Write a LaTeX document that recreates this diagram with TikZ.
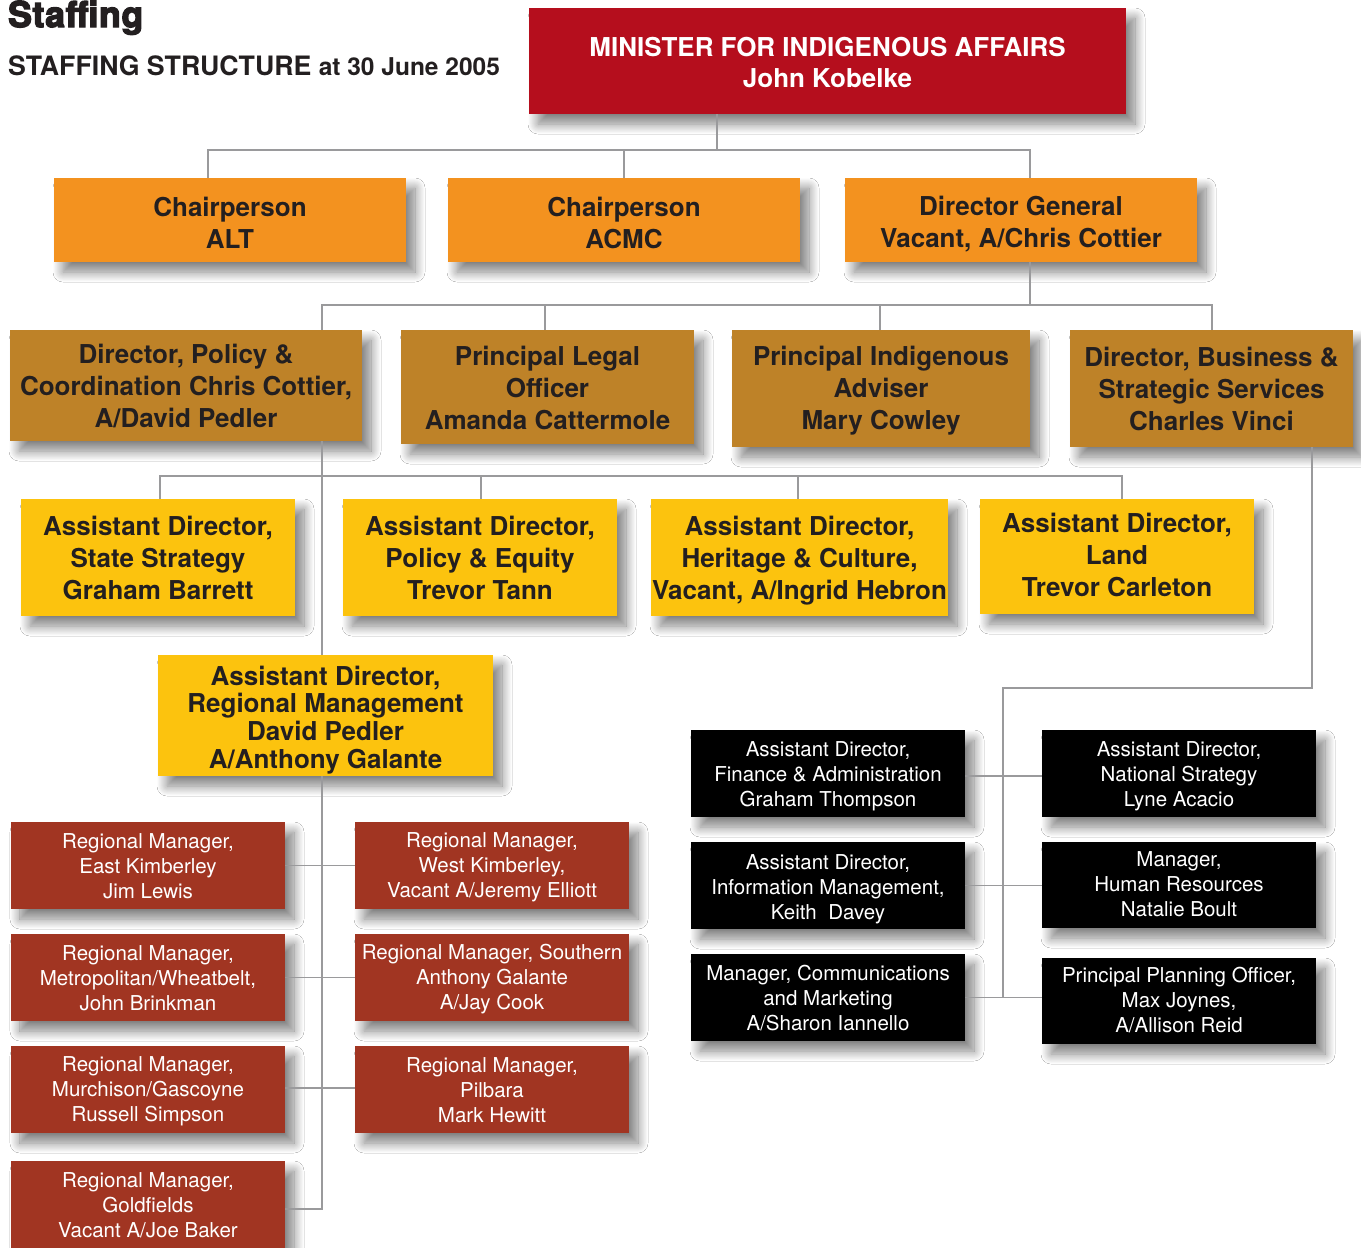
\documentclass[tikz,border=0pt]{standalone}
\usepackage{fontspec}
\setmainfont{TeX Gyre Heros}
\newfontfamily\heavyfont{texgyreheros-bold.otf}[FakeBold=4,LetterSpace=2]
\usetikzlibrary{shadows.blur}
\definecolor{minred}{HTML}{B50E1D}
\definecolor{orng}{HTML}{F3921F}
\definecolor{gold}{HTML}{BE8228}
\definecolor{yel}{HTML}{FCC30E}
\definecolor{rust}{HTML}{A13522}
\definecolor{txt}{HTML}{231F20}
\definecolor{linec}{HTML}{9A9A9C}
\tikzset{
  box/.style={inner sep=0pt,
    blur shadow={shadow xshift=9pt, shadow yshift=-10pt, shadow blur radius=10pt, shadow blur steps=14, shadow opacity=50}},
  btext/.style={inner sep=0pt, align=center, text=txt, font=\bfseries\fontsize{26}{32}\selectfont},
  wtext/.style={inner sep=0pt, align=center, text=white, font=\fontsize{20.5}{25}\selectfont},
  conn/.style={draw=linec, line width=1.6pt},
  bw/.style 2 args={minimum width=#1, minimum height=#2}
}
% #1 fill, #2 text style, #3 width, #4 height, #5 name, #6 centre, #7 text shift (down, px), #8 text
\newcommand\obox[8]{%
  \node[box, fill=#1, bw={#3}{#4}] (#5) at (#6) {};
  \node[#2] (#5-t) at ([yshift=-#7pt]#5.center) {#8};}
\begin{document}
\begin{tikzpicture}[x=1pt,y=-1pt]
\useasboundingbox[fill=white] (0,0) rectangle (1361,1248);

\node[anchor=base west, inner sep=0pt, text=txt, font=\heavyfont\fontsize{35.5}{35.5}\selectfont] (title) at (8,27) {Staffing};
\node[anchor=base west, inner sep=0pt, text=txt, font=\bfseries\fontsize{26.7}{26.7}\selectfont] (sub) at (8,75) {STAFFING STRUCTURE {\fontsize{24.5}{24.5}\selectfont at 30 June 2005}};

% level 1
\obox{minred}{btext, text=white, font=\bfseries\fontsize{26}{31}\selectfont}{597}{106}{min}{827.5,61}{1.5}{MINISTER FOR INDIGENOUS AFFAIRS\\John Kobelke}

% level 2
\obox{orng}{btext}{352}{84}{alt}{230,220}{3}{Chairperson\\ALT}
\obox{orng}{btext}{352}{84}{acmc}{624,220}{3}{Chairperson\\ACMC}
\obox{orng}{btext}{352}{84}{dg}{1021,220}{4.5}{Director General\\Vacant, A/Chris Cottier}

% level 3
\obox{gold}{btext}{352}{111}{pol}{186,385.5}{0}{Director, Policy \&\\Coordination Chris Cottier,\\A/David Pedler}
\obox{gold}{btext}{293}{114}{legal}{547.5,387}{1}{Principal Legal\\Officer\\Amanda Cattermole}
\obox{gold}{btext}{298}{117}{ind}{881,388.5}{2.5}{Principal Indigenous\\Adviser\\Mary Cowley}
\obox{gold}{btext}{283}{117}{bus}{1211.5,388.5}{0}{Director, Business \&\\Strategic Services\\Charles Vinci}

% level 4
\obox{yel}{btext}{274}{117}{state}{158,557.5}{0}{Assistant Director,\\State Strategy\\Graham Barrett}
\obox{yel}{btext}{274}{117}{poleq}{480,557.5}{0}{Assistant Director,\\Policy \& Equity\\Trevor Tann}
\obox{yel}{btext}{297}{117}{her}{799.5,557.5}{3}{Assistant Director,\\Heritage \& Culture,\\Vacant, A/Ingrid Hebron}
\obox{yel}{btext}{274}{115}{land}{1117,556.5}{-2}{Assistant Director,\\Land\\Trevor Carleton}
\obox{yel}{btext, font=\bfseries\fontsize{26}{27.7}\selectfont}{335}{121}{reg}{325.5,715.5}{4.5}{Assistant Director,\\Regional Management\\David Pedler\\A/Anthony Galante}

% regional managers
\obox{rust}{wtext}{274}{87}{ek}{148,865.5}{1}{Regional Manager,\\East Kimberley\\Jim Lewis}
\obox{rust}{wtext}{274}{87}{wk}{492,865.5}{1.5}{Regional Manager,\\West Kimberley,\\Vacant A/Jeremy Elliott}
\obox{rust}{wtext}{274}{87}{met}{148,977.5}{1}{Regional Manager,\\Metropolitan/Wheatbelt,\\John Brinkman}
\obox{rust}{wtext}{274}{87}{sou}{492,977.5}{1.5}{Regional Manager, Southern\\Anthony Galante\\A/Jay Cook}
\obox{rust}{wtext}{274}{87}{mur}{148,1089.5}{1.5}{Regional Manager,\\Murchison/Gascoyne\\Russell Simpson}
\obox{rust}{wtext}{274}{87}{pil}{492,1089.5}{1}{Regional Manager,\\Pilbara\\Mark Hewitt}
\obox{rust}{wtext}{274}{89}{gol}{148,1205.5}{0}{Regional Manager,\\Goldfields\\Vacant A/Joe Baker}

% business services
\obox{black}{wtext}{274}{87}{fin}{828,773.5}{3}{Assistant Director,\\Finance \& Administration\\Graham Thompson}
\obox{black}{wtext}{274}{87}{nat}{1179,773.5}{3}{Assistant Director,\\National Strategy\\Lyne Acacio}
\obox{black}{wtext}{274}{87}{info}{828,885.5}{3.5}{Assistant Director,\\Information Management,\\Keith\ \ Davey}
\obox{black}{wtext}{274}{86}{hr}{1179,885}{-1}{Manager,\\Human Resources\\Natalie Boult}
\obox{black}{wtext}{274}{87}{com}{828,997.5}{1}{Manager, Communications\\and Marketing\\A/Sharon Iannello}
\obox{black}{wtext}{274}{86}{plan}{1179,1001}{-1}{Principal Planning Officer,\\Max Joynes,\\A/Allison Reid}

% connectors level 1-2
\coordinate (j1) at (717,150);
\coordinate (a2) at (208,150);
\coordinate (c2) at (1030,150);
\draw[conn] (min.south -| j1) -- (j1);
\draw[conn] (a2 |- alt.north) -- (a2) -- (c2) -- (c2 |- dg.north);
\draw[conn] (acmc.north) -- (acmc.north |- j1);

% level 2-3
\coordinate (j2) at (1030,305);
\coordinate (p3) at (322,305);
\coordinate (l3) at (545,305);
\coordinate (i3) at (880,305);
\coordinate (b3) at (1212,305);
\draw[conn] (dg.south -| j2) -- (j2);
\draw[conn] (p3 |- pol.north) -- (p3) -- (b3) -- (b3 |- bus.north);
\draw[conn] (l3) -- (l3 |- legal.north);
\draw[conn] (i3) -- (i3 |- ind.north);

% level 3-4
\coordinate (j3) at (322,476);
\coordinate (s4) at (160,476);
\coordinate (e4) at (481,476);
\coordinate (h4) at (798,476);
\coordinate (t4) at (1122,476);
\draw[conn] (pol.south -| j3) -- (reg.north -| j3);
\draw[conn] (s4 |- state.north) -- (s4) -- (t4) -- (t4 |- land.north);
\draw[conn] (e4) -- (e4 |- poleq.north);
\draw[conn] (h4) -- (h4 |- her.north);

% regional
\coordinate (gj) at (322,1209);
\draw[conn] (reg.south -| j3) -- (gj) -- (gj -| gol.east);
\draw[conn] (ek.east) -- (ek.east -| wk.west);
\draw[conn] (met.east) -- (met.east -| sou.west);
\draw[conn] ([yshift=1.5pt]mur.east) -- ([yshift=1.5pt]mur.east -| pil.west);

% business services
\coordinate (r1) at (1312,688);
\coordinate (r2) at (1003,688);
\draw[conn] (bus.south -| r1) -- (r1) -- (r2) -- (r2 |- com.east);
\draw[conn] ([yshift=-2.5pt]fin.east) -- ([yshift=-2.5pt]fin.east -| nat.west);
\draw[conn] (info.east) -- (info.east -| hr.west);
\draw[conn] (com.east) -- (com.east -| plan.west);
\end{tikzpicture}
\end{document}
